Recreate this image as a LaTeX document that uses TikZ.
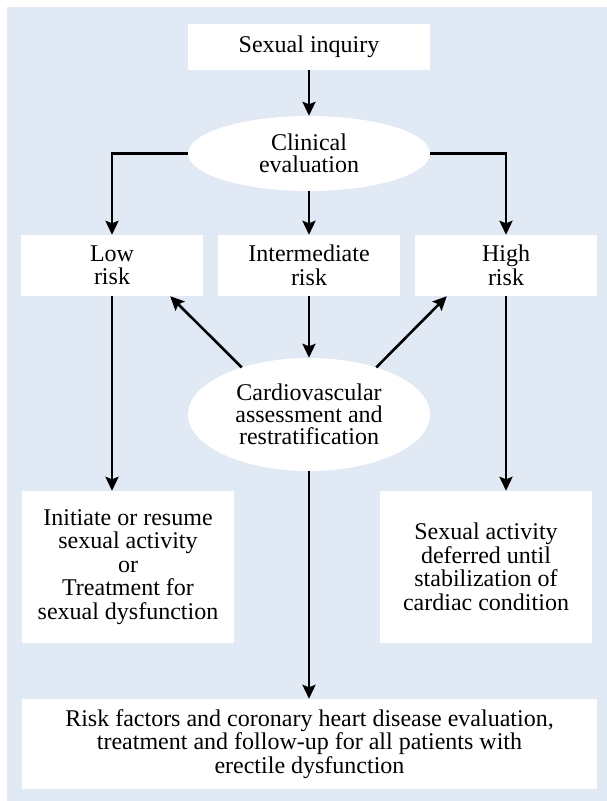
\documentclass[tikz,border=0pt]{standalone}
\usepackage{fontspec}
\setmainfont{Liberation Serif}
\usetikzlibrary{shapes.geometric, arrows.meta}
\definecolor{panelblue}{RGB}{225,233,244}

\tikzset{
  box/.style={rectangle, fill=white, inner sep=0pt, align=center, font=\fontsize{24}{23.5}\selectfont},
  oval/.style={ellipse, fill=white, inner sep=0pt, align=center, font=\fontsize{24}{22}\selectfont},
  arr/.style={line width=2.6pt, -{Stealth[length=14pt,width=13pt,inset=2.5pt]}}
}

\begin{document}
\begin{tikzpicture}[x=1pt,y=-1pt]
\useasboundingbox (0,0) rectangle (607,801);
\fill[panelblue] (7,7) rectangle (607,801);

\node[box, minimum width=242pt, minimum height=46pt] (inquiry) at (309,47) {Sexual inquiry};
\node[oval, minimum width=242pt, minimum height=75pt] (clinical) at (309,153.5) {Clinical\\evaluation};

\node[box, minimum width=182pt, minimum height=61pt] (low) at (112,265.5) {Low\\risk};
\node[box, minimum width=182pt, minimum height=61pt] (inter) at (309,265.5) {Intermediate\\risk};
\node[box, minimum width=182pt, minimum height=61pt] (high) at (506,265.5) {High\\risk};

\node[oval, minimum width=242pt, minimum height=113pt] (cardio) at (309,414.5) {Cardiovascular\\assessment and\\restratification};

\node[box, minimum width=212pt, minimum height=152pt] (initiate) at (128,567) {Initiate or resume\\sexual activity\\or\\Treatment for\\sexual dysfunction};
\node[box, minimum width=212pt, minimum height=152pt] (deferred) at (486,567) {Sexual activity\\deferred until\\stabilization of\\cardiac condition};

\node[box, minimum width=575pt, minimum height=90pt] (followup) at (309.5,744) {Risk factors and coronary heart disease evaluation,\\treatment and follow-up for all patients with\\erectile dysfunction};

\draw[arr] (inquiry) -- (clinical);
\draw[arr] (clinical.west) -| (low.north);
\draw[arr] (clinical) -- (inter);
\draw[arr] (clinical.east) -| (high.north);
\draw[arr] (inter) -- (cardio);
\draw[arr] (cardio.145) -- ([xshift=-33pt]low.south east);
\draw[arr] (cardio.35) -- ([xshift=32pt]high.south west);
\draw[arr] (low.south) -- (low.south |- initiate.north);
\draw[arr] (high.south) -- (high.south |- deferred.north);
\draw[arr] (cardio.south) -- (cardio.south |- followup.north);
\end{tikzpicture}
\end{document}
